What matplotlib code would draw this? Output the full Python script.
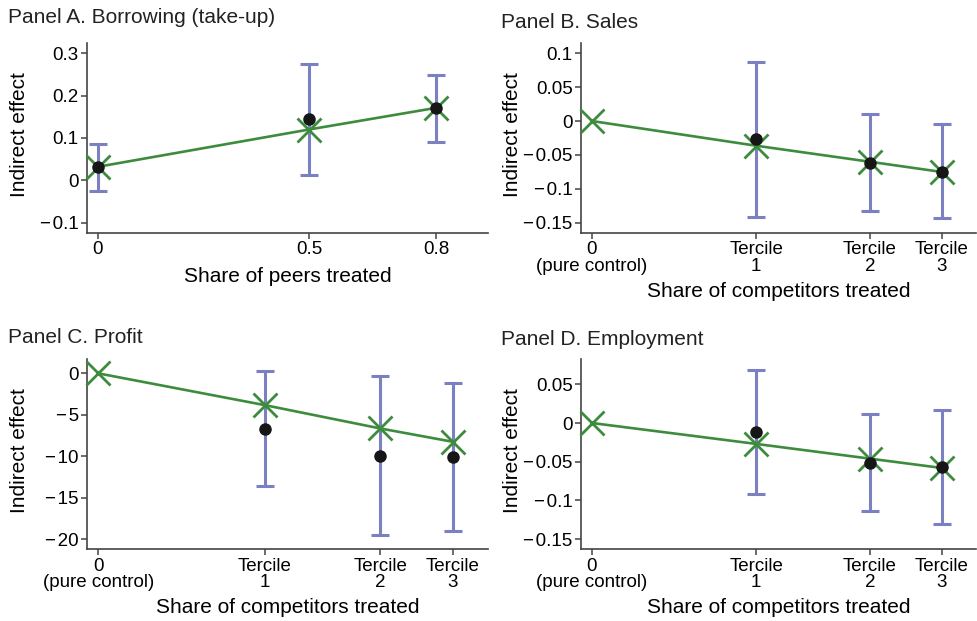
import numpy as np
import matplotlib
matplotlib.use('Agg')
import matplotlib.pyplot as plt

plt.rcParams['font.family'] = ['Liberation Sans', 'DejaVu Sans']

# Panel A: borrowing
a_x = [0, 0.5, 0.8]
a_est = [0.032, 0.144, 0.171]
a_lo = [-0.025, 0.012, 0.090]
a_hi = [0.087, 0.274, 0.249]
a_fit = [0.032, 0.120, 0.171]
a_ticklabels = ['0', '0.5', '0.8']
a_yticks = [-0.1, 0, 0.1, 0.2, 0.3]

# competitor share positions (pure control + terciles)
comp_x = [0, 0.39, 0.66, 0.83]
comp_ticklabels = ['0\n(pure control)', 'Tercile\n1', 'Tercile\n2', 'Tercile\n3']

# Panel B: sales
b_est = [-0.027, -0.0615, -0.0748]
b_lo = [-0.141, -0.1327, -0.1435]
b_hi = [0.0866, 0.0099, -0.0049]
b_fit = [0, -0.0364, -0.060, -0.075]
b_yticks = [-0.15, -0.1, -0.05, 0, 0.05, 0.1]

# Panel C: profit
c_est = [-6.69, -9.94, -10.1]
c_lo = [-13.6, -19.5, -18.95]
c_hi = [0.31, -0.29, -1.17]
c_fit = [0, -3.83, -6.64, -8.25]
c_yticks = [-20, -15, -10, -5, 0]

# Panel D: employment
d_est = [-0.012, -0.0513, -0.0569]
d_lo = [-0.0918, -0.114, -0.131]
d_hi = [0.068, 0.0112, 0.0168]
d_fit = [0, -0.027, -0.046, -0.058]
d_yticks = [-0.15, -0.1, -0.05, 0, 0.05]

ci_col = '#7b80c2'
fit_col = '#3d8c3d'
spine_col = '#444444'


def fmt(v):
    if v == 0:
        return '0'
    return ('%g' % v).replace('-', '\u2212\u200a')


def panel(ax, xs_pts, est, lo, hi, xs_fit, fit, xticks, xticklabels, yticks,
          ylim, xlim, xlabel, two_line, ylab_x):
    est = np.array(est)
    yerr = [est - np.array(lo), np.array(hi) - est]
    ax.errorbar(xs_pts, est, yerr=yerr, fmt='none', ecolor=ci_col,
                elinewidth=2.2, capsize=6.5, capthick=2.2, zorder=2)
    ax.plot(xs_fit, fit, color=fit_col, lw=1.9, marker='x', ms=17,
            mew=2.0, zorder=3, clip_on=False)
    ax.plot(xs_pts, est, 'o', color='#161616', ms=8, zorder=4)
    ax.set_xlim(*xlim)
    ax.set_ylim(*ylim)
    ax.set_xticks(xticks)
    ax.set_xticklabels(xticklabels)
    ax.set_yticks(yticks)
    ax.set_yticklabels([fmt(v) for v in yticks])
    for s in ['top', 'right']:
        ax.spines[s].set_visible(False)
    for s in ['left', 'bottom']:
        ax.spines[s].set_color(spine_col)
        ax.spines[s].set_linewidth(1.2)
    ax.tick_params(direction='out', length=4, width=1.1, color=spine_col,
                   labelsize=13.5, pad=2)
    if two_line:
        for lbl in ax.get_xticklabels():
            lbl.set_linespacing(0.95)
    ax.set_ylabel('Indirect effect', fontsize=15)
    ax.yaxis.set_label_coords(ylab_x, 0.52)
    ax.set_xlabel(xlabel, fontsize=15, labelpad=5 if two_line else 6)


fig = plt.figure(figsize=(9.78, 6.21), dpi=100)
axA = fig.add_axes([0.089, 0.6248, 0.410, 0.306])
axB = fig.add_axes([0.594, 0.6248, 0.404, 0.306])
axC = fig.add_axes([0.089, 0.1155, 0.410, 0.306])
axD = fig.add_axes([0.594, 0.1155, 0.404, 0.306])

panel(axA, a_x, a_est, a_lo, a_hi, a_x, a_fit, a_x, a_ticklabels, a_yticks,
      (-0.124, 0.324), (-0.025, 0.923), 'Share of peers treated', False, -0.145)
panel(axB, comp_x[1:], b_est, b_lo, b_hi, comp_x, b_fit, comp_x,
      comp_ticklabels, b_yticks, (-0.165, 0.115), (-0.026, 0.912),
      'Share of competitors treated', True, -0.150)
panel(axC, comp_x[1:], c_est, c_lo, c_hi, comp_x, c_fit, comp_x,
      comp_ticklabels, c_yticks, (-21.2, 1.7), (-0.026, 0.912),
      'Share of competitors treated', True, -0.145)
panel(axD, comp_x[1:], d_est, d_lo, d_hi, comp_x, d_fit, comp_x,
      comp_ticklabels, d_yticks, (-0.163, 0.0823), (-0.026, 0.912),
      'Share of competitors treated', True, -0.150)

fig.text(8 / 978, 1 - 23 / 621, 'Panel A. Borrowing (take-up)', fontsize=15,
         va='baseline', color='#222222')
fig.text(501 / 978, 1 - 28 / 621, 'Panel B. Sales', fontsize=15,
         va='baseline', color='#222222')
fig.text(8 / 978, 1 - 343 / 621, 'Panel C. Profit', fontsize=15,
         va='baseline', color='#222222')
fig.text(501 / 978, 1 - 345 / 621, 'Panel D. Employment', fontsize=15,
         va='baseline', color='#222222')

fig.savefig('out.png', dpi=100)
